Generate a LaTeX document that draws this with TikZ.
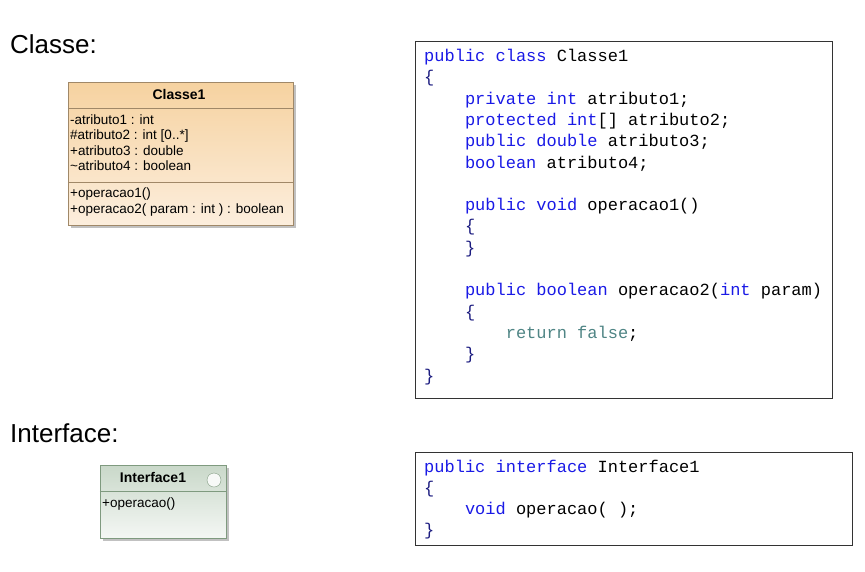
\documentclass[tikz,border=0pt]{standalone}
\usepackage{fontspec}
\setmainfont{Liberation Sans}
\setmonofont{Liberation Mono}
\usepackage{xcolor}
\usetikzlibrary{shadows}
\definecolor{classtop}{HTML}{F6D2A0}
\definecolor{classbot}{HTML}{FCEEDD}
\definecolor{classline}{HTML}{A08868}
\definecolor{ifacetop}{HTML}{C9D8C9}
\definecolor{ifacebot}{HTML}{F4F7F4}
\definecolor{ifaceline}{HTML}{7F9A7F}
\definecolor{kwcolor}{HTML}{1A1AE6}
\definecolor{bracecolor}{HTML}{1C1C80}
\definecolor{retcolor}{HTML}{4F8585}
\newcommand{\kw}[1]{\textcolor{kwcolor}{#1}}
\newcommand{\br}[1]{\textcolor{bracecolor}{#1}}
\newcommand{\ind}{\phantom{xxxx}}

\begin{document}
\begin{tikzpicture}[x=1pt, y=-1pt,
  heading/.style={anchor=base west, inner sep=0, font=\fontsize{26}{30}\selectfont},
  umltext/.style={anchor=base west, inner sep=0, font=\fontsize{13.5}{16}\selectfont},
  umltitle/.style={anchor=base, inner sep=0, font=\bfseries\fontsize{14}{16}\selectfont},
  classbox/.style={draw=classline, rectangle, top color=classtop, bottom color=classbot, inner sep=0,
    drop shadow={shadow xshift=3pt, shadow yshift=-3pt, fill=black!35, opacity=0.7}},
  ifacebox/.style={draw=ifaceline, rectangle, top color=ifacetop, bottom color=ifacebot, inner sep=0,
    drop shadow={shadow xshift=3pt, shadow yshift=-3pt, fill=black!35, opacity=0.7}},
  codebox/.style={draw=black!80, rectangle, fill=white, inner sep=0},
  codetext/.style={anchor=north west, inner sep=0, align=left, font=\ttfamily\fontsize{17}{21.3}\selectfont},
]
\useasboundingbox (0,0) rectangle (865,571);

% Classe
\node[heading] (hclasse) at (10,53) {Classe:};
\node[classbox, minimum width=225, minimum height=143] (classe1) at (180.5,153.5) {};
\draw[classline] ([yshift=-26]classe1.north west) -- ([yshift=-26]classe1.north east);
\draw[classline] ([yshift=-100]classe1.north west) -- ([yshift=-100]classe1.north east);
\node[umltitle] (tclasse1) at (179,99) {Classe1};
\node[umltext] (atr1) at (70,124) {-atributo1 : int};
\node[umltext] (atr2) at (70,139.5) {\#atributo2 : int [0..*]};
\node[umltext] (atr3) at (70,155) {+atributo3 : double};
\node[umltext] (atr4) at (70,170.5) {\textasciitilde atributo4 : boolean};
\node[umltext] (op1) at (70,197) {+operacao1()};
\node[umltext] (op2) at (70,213) {+operacao2( param : int ) : boolean};

\node[codebox, minimum width=417, minimum height=357] (codeclasse) at (623.5,219.5) {};
\node[codetext] (srcclasse) at (424,49) {%
\kw{public} \kw{class} Classe1\\
\br{\{}\\
\ind\kw{private} \kw{int} atributo1;\\
\ind\kw{protected} \kw{int}[] atributo2;\\
\ind\kw{public} \kw{double} atributo3;\\
\ind\kw{boolean} atributo4;\\
\mbox{}\\
\ind\kw{public} \kw{void} operacao1()\\
\ind\br{\{}\\
\ind\br{\}}\\
\mbox{}\\
\ind\kw{public} \kw{boolean} operacao2(\kw{int} param)\\
\ind\br{\{}\\
\ind\ind\textcolor{retcolor}{return false};\\
\ind\br{\}}\\
\br{\}}};

% Interface
\node[heading] (hiface) at (10,442) {Interface:};
\node[ifacebox, minimum width=126, minimum height=73] (iface1) at (163,501.5) {};
\draw[ifaceline] ([yshift=-26]iface1.north west) -- ([yshift=-26]iface1.north east);
\node[umltitle] (tiface1) at (153,482) {Interface1};
\node[draw=ifaceline, circle, fill=white!85!ifacetop, minimum size=14, inner sep=0] (lollipop) at (214,480) {};
\node[umltext] (opi) at (102,507) {+operacao()};

\node[codebox, minimum width=437, minimum height=93] (codeiface) at (633.5,498.5) {};
\node[codetext] (srciface) at (424,459.5) {%
\kw{public} \kw{interface} Interface1\\
\br{\{}\\
\ind\kw{void} operacao( );\\
\br{\}}};
\end{tikzpicture}
\end{document}
